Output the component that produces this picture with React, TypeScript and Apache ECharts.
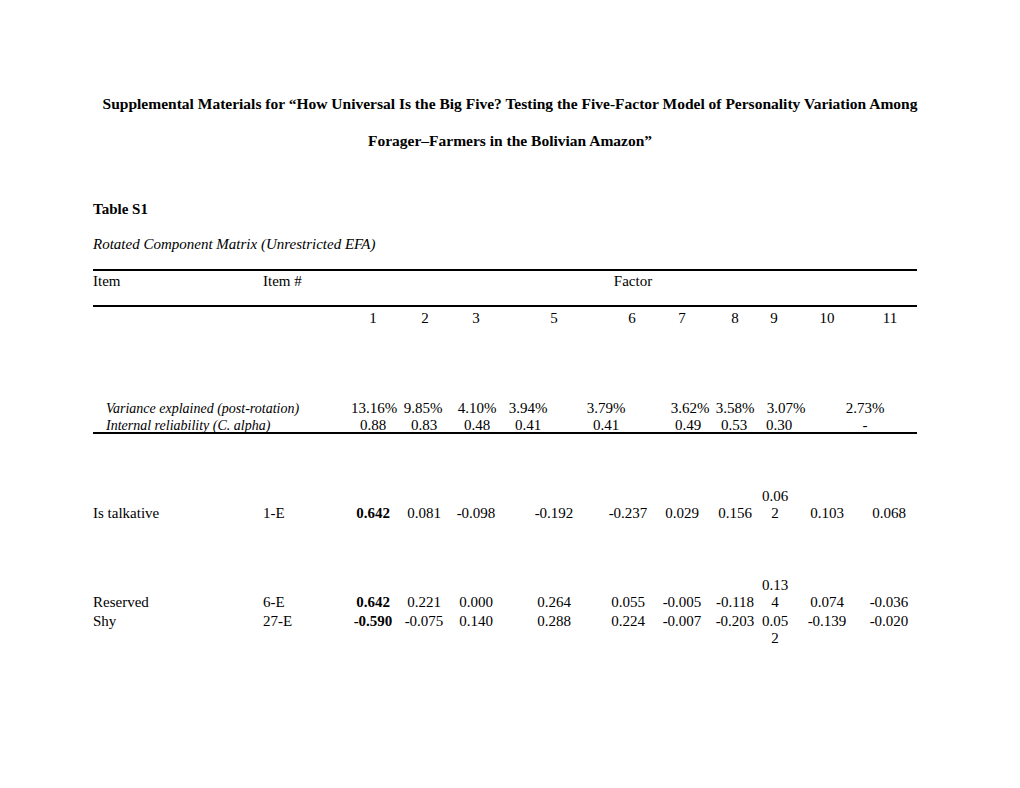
import React, { useEffect, useRef } from "react";
import * as echarts from "echarts";

// ---- data ----
const titleLines = [
  "Supplemental Materials for \u201cHow Universal Is the Big Five? Testing the Five-Factor Model of Personality Variation Among",
  "Forager\u2013Farmers in the Bolivian Amazon\u201d",
];
const tableLabel = "Table S1";
const tableCaption = "Rotated Component Matrix (Unrestricted EFA)";
const headerItem = "Item";
const headerItemNo = "Item #";
const headerFactor = "Factor";
const factors = ["1", "2", "3", "5", "6", "7", "8", "9", "10", "11"];
const varianceLabel = "Variance explained (post-rotation)";
const varianceExplained = ["13.16%", "9.85%", "4.10%", "3.94%", "3.79%", "3.62%", "3.58%", "3.07%", "2.73%"];
const reliabilityLabel = "Internal reliability (C. alpha)";
const reliability = ["0.88", "0.83", "0.48", "0.41", "0.41", "0.49", "0.53", "0.30", "-"];
const items = ["Is talkative", "Reserved", "Shy"];
const itemCodes = ["1-E", "6-E", "27-E"];
const loadings = [
  [0.642, 0.081, -0.098, -0.192, -0.237, 0.029, 0.156, 0.062, 0.103, 0.068],
  [0.642, 0.221, 0.0, 0.264, 0.055, -0.005, -0.118, 0.134, 0.074, -0.036],
  [-0.59, -0.075, 0.14, 0.288, 0.224, -0.007, -0.203, 0.052, -0.139, -0.02],
];

// ---- layout ----
const FONT = "'Liberation Serif', 'Times New Roman', serif";
const LEFT = 93;
const RIGHT = 917;
const codeX = 263;
const headerX = [373, 425, 476, 554, 632, 682, 735, 774, 827, 890];
const loadingX = [373, 424, 476, 554, 628, 682, 735, 775, 827, 889];
const varianceX = [374, 423, 477, 528, 606, 690, 735, 786, 865];
const reliabilityX = [373, 424, 477, 528, 606, 688, 734, 779, 865];
const rowY = [513, 602, 621];
const wrapUp = [true, true, false];
const wrapCol = 7;

export default function App() {
  const ref = useRef<HTMLDivElement>(null);
  useEffect(() => {
    if (!ref.current) return;
    const chart = echarts.init(ref.current, undefined, { renderer: "svg" });
    const g: any[] = [];
    const txt = (x: number, y: number, s: string, opts: any = {}) => {
      g.push({
        type: "text",
        x,
        y,
        silent: true,
        style: {
          text: s,
          fill: "#000",
          font: `${opts.style || "normal"} ${opts.weight || "normal"} ${opts.size || 15}px ${FONT}`,
          textAlign: opts.align || "left",
          textVerticalAlign: "middle",
        },
      });
    };
    const hline = (y: number) => {
      g.push({
        type: "line",
        silent: true,
        shape: { x1: LEFT, y1: y, x2: RIGHT, y2: y },
        style: { stroke: "#000", lineWidth: 2 },
      });
    };
    txt(510, 103, titleLines[0], { weight: "bold", size: 15.5, align: "center" });
    txt(510, 140, titleLines[1], { weight: "bold", size: 15.5, align: "center" });
    txt(LEFT, 209, tableLabel, { weight: "bold" });
    txt(LEFT, 244, tableCaption, { style: "italic" });
    hline(270);
    txt(LEFT, 281, headerItem);
    txt(codeX, 281, headerItemNo);
    txt(633, 281, headerFactor, { align: "center" });
    hline(306);
    factors.forEach((f, i) => txt(headerX[i], 318, f, { align: "center" }));
    txt(106, 408, varianceLabel, { style: "italic", size: 14 });
    varianceExplained.forEach((v, i) => txt(varianceX[i], 408, v, { align: "center" }));
    txt(106, 425, reliabilityLabel, { style: "italic", size: 14 });
    reliability.forEach((v, i) => txt(reliabilityX[i], 425, v, { align: "center" }));
    hline(433);
    items.forEach((it, r) => {
      const y = rowY[r];
      txt(LEFT, y, it);
      txt(codeX, y, itemCodes[r]);
      loadings[r].forEach((v, c) => {
        const s = v.toFixed(3);
        const bold = Math.abs(v) >= 0.5;
        if (c === wrapCol) {
          const a = s.slice(0, 4);
          const b = s.slice(4);
          if (wrapUp[r]) {
            txt(loadingX[c], y - 17, a, { align: "center" });
            txt(loadingX[c], y, b, { align: "center" });
          } else {
            txt(loadingX[c], y, a, { align: "center" });
            txt(loadingX[c], y + 17, b, { align: "center" });
          }
        } else {
          txt(loadingX[c], y, s, { align: "center", weight: bold ? "bold" : "normal" });
        }
      });
    });
    chart.setOption({
      animation: false,
      backgroundColor: "#fff",
      graphic: g,
    });
    return () => chart.dispose();
  }, []);
  return (
    <div
      ref={ref}
      style={{ position: "fixed", left: 0, top: 0, width: 1020, height: 788, background: "#fff" }}
    />
  );
}
